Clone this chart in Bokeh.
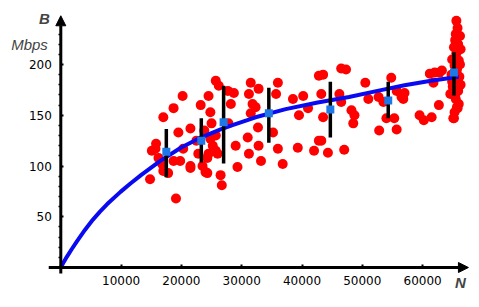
from bokeh.plotting import figure
from bokeh.models import LinearAxis, FixedTicker, Range1d, Arrow, NormalHead, Label
from bokeh.embed import file_html
from bokeh.resources import INLINE

# ---- data ----
x_ticks = [10000, 20000, 30000, 40000, 50000, 60000]
y_ticks = [50, 100, 150, 200]
y_minor = [10, 20, 30, 40, 60, 70, 80, 90, 110, 120, 130, 140, 160, 170, 180, 190, 210, 220, 230, 240]

pts_N = [19100, 14800, 15700, 16200, 16800, 17800, 17000, 18700, 20200, 19500, 19800, 18700,
         21500, 21500, 20300, 23200, 24500, 24800, 24000, 24300, 25200, 25700, 26200, 26500,
         26700, 26000, 27700, 25700, 15800, 15100, 17000, 21500, 23500, 24300, 24500, 24800,
         25700, 22500, 23800, 25000, 22800,
         28700, 28200, 27800, 29000, 29300, 31500, 32800, 31200, 31800, 32300, 31500, 32700,
         31000, 32800, 31200, 33200, 36000, 35700, 35200, 36000, 36800, 38500, 40200, 41000,
         39500, 39300, 42000, 42800, 42800,
         46500, 47300, 43500, 43200, 46200, 46500, 50500, 43500, 48200, 48700, 48500, 43200,
         44300, 47000, 51000, 52700, 53500, 54800, 55700, 56500, 54000, 55300, 52800, 55700,
         62000, 63200, 61800, 57000, 56800, 62700, 59500, 60200, 61500, 61200, 62800,
         65600, 65800, 65500, 65400, 65200, 65600, 64900, 65300, 66000, 65700, 66100, 64900,
         65000, 65900, 65400, 65500, 66000, 65800, 65300, 65100, 66200, 66300, 66200, 65900,
         64800, 66300, 65700, 64600, 65200, 65700]
pts_B = [68, 87, 117, 108, 102, 93, 148, 157, 169, 133, 105, 105,
         100, 137, 117, 160, 169, 153, 94, 108, 120, 184, 179, 91,
         81, 112, 174, 130, 122, 115, 95, 98, 100, 93, 112, 127,
         115, 125, 135, 142, 112,
         172, 161, 142, 120, 99, 182, 176, 171, 161, 158, 152, 138,
         128, 120, 112, 105, 182, 171, 133, 117, 102, 166, 169, 157,
         150, 118, 115, 125, 189,
         196, 195, 190, 171, 171, 163, 182, 148, 155, 150, 142, 125,
         113, 116, 166, 168, 163, 187, 174, 168, 147, 147, 135, 136,
         192, 194, 182, 172, 166, 160, 150, 145, 148, 191, 192,
         243, 236, 230, 224, 217, 211, 205, 199, 204, 195, 188, 183,
         178, 174, 170, 166, 161, 157, 153, 147, 228, 215, 200, 220,
         190, 180, 185, 171, 147, 158]

mean_N = [17500, 23300, 27000, 34500, 44700, 54300, 65200]
mean_B = [114, 125, 143, 152, 155.6, 164.5, 192]
low_B = [89, 103.5, 102.5, 123, 128, 147, 169.5]
high_B = [136.5, 147, 179, 177, 183, 183, 212]

fit_N = [0, 500, 1000, 1800, 2700, 4000, 5300, 6500, 7700, 9900, 11500, 13300, 16500, 19900,
         23200, 26500, 28100, 32300, 37300, 42600, 47800, 53300, 57000, 61400, 66000]
fit_B = [0, 5.5, 10.5, 18, 26, 37, 47, 55, 62.5, 74.5, 82.5, 91, 105, 118,
         128, 136, 139.5, 148, 156, 162.5, 168, 175, 179.5, 184, 188]

# ---- figure ----
p = figure(width=479, height=307, x_range=Range1d(-10000, 69436), y_range=Range1d(-39.4, 263.05),
           output_backend="svg", toolbar_location=None, x_axis_type=None, y_axis_type=None,
           min_border=0)
p.outline_line_color = None
p.background_fill_color = "white"

p.scatter(pts_N, pts_B, size=10, fill_color="#ff0000", line_color=None)
p.line(fit_N, fit_B, line_color="#0a0af0", line_width=4)
p.segment(x0=mean_N, y0=low_B, x1=mean_N, y1=high_B, line_color="black", line_width=3.5)
p.scatter(mean_N, mean_B, marker="square", size=8, fill_color="#1e78e6", line_color=None)

tick_font = dict(major_label_text_font="DejaVu Sans", major_label_text_font_size="12px",
                 major_label_text_color="black")
xaxis = LinearAxis(fixed_location=0, ticker=FixedTicker(ticks=x_ticks), axis_line_color=None,
                   major_tick_in=3, major_tick_out=0, major_tick_line_width=2,
                   minor_tick_line_color=None, major_label_standoff=8, **tick_font)
p.add_layout(xaxis, "below")
yaxis = LinearAxis(fixed_location=0, ticker=FixedTicker(ticks=y_ticks, minor_ticks=y_minor),
                   axis_line_color=None, major_tick_in=3, major_tick_out=0, major_tick_line_width=2,
                   minor_tick_in=0, minor_tick_out=2, minor_tick_line_width=1.5,
                   major_label_standoff=7, **tick_font)
p.add_layout(yaxis, "left")

p.add_layout(Arrow(end=NormalHead(size=10, fill_color="black", line_color="black"),
                   x_start=-2000, y_start=0, x_end=67600, y_end=0, line_width=3, line_color="black"))
p.add_layout(Arrow(end=NormalHead(size=10, fill_color="black", line_color="black"),
                   x_start=0, y_start=-6, x_end=0, y_end=248, line_width=3, line_color="black"))

p.add_layout(Label(x=-2703, y=245.8, text="B", text_font="Liberation Sans", text_font_style="bold italic",
                   text_font_size="15px", text_align="center", text_baseline="middle"))
p.add_layout(Label(x=-5190, y=219.7, text="Mbps", text_font="Liberation Sans", text_font_style="italic",
                   text_font_size="15px", text_align="center", text_baseline="alphabetic"))
p.add_layout(Label(x=66286, y=-14.8, text="N", text_font="Liberation Sans", text_font_style="bold italic",
                   text_font_size="15px", text_align="center", text_baseline="middle"))

open("out.html", "w").write(file_html(p, INLINE))
